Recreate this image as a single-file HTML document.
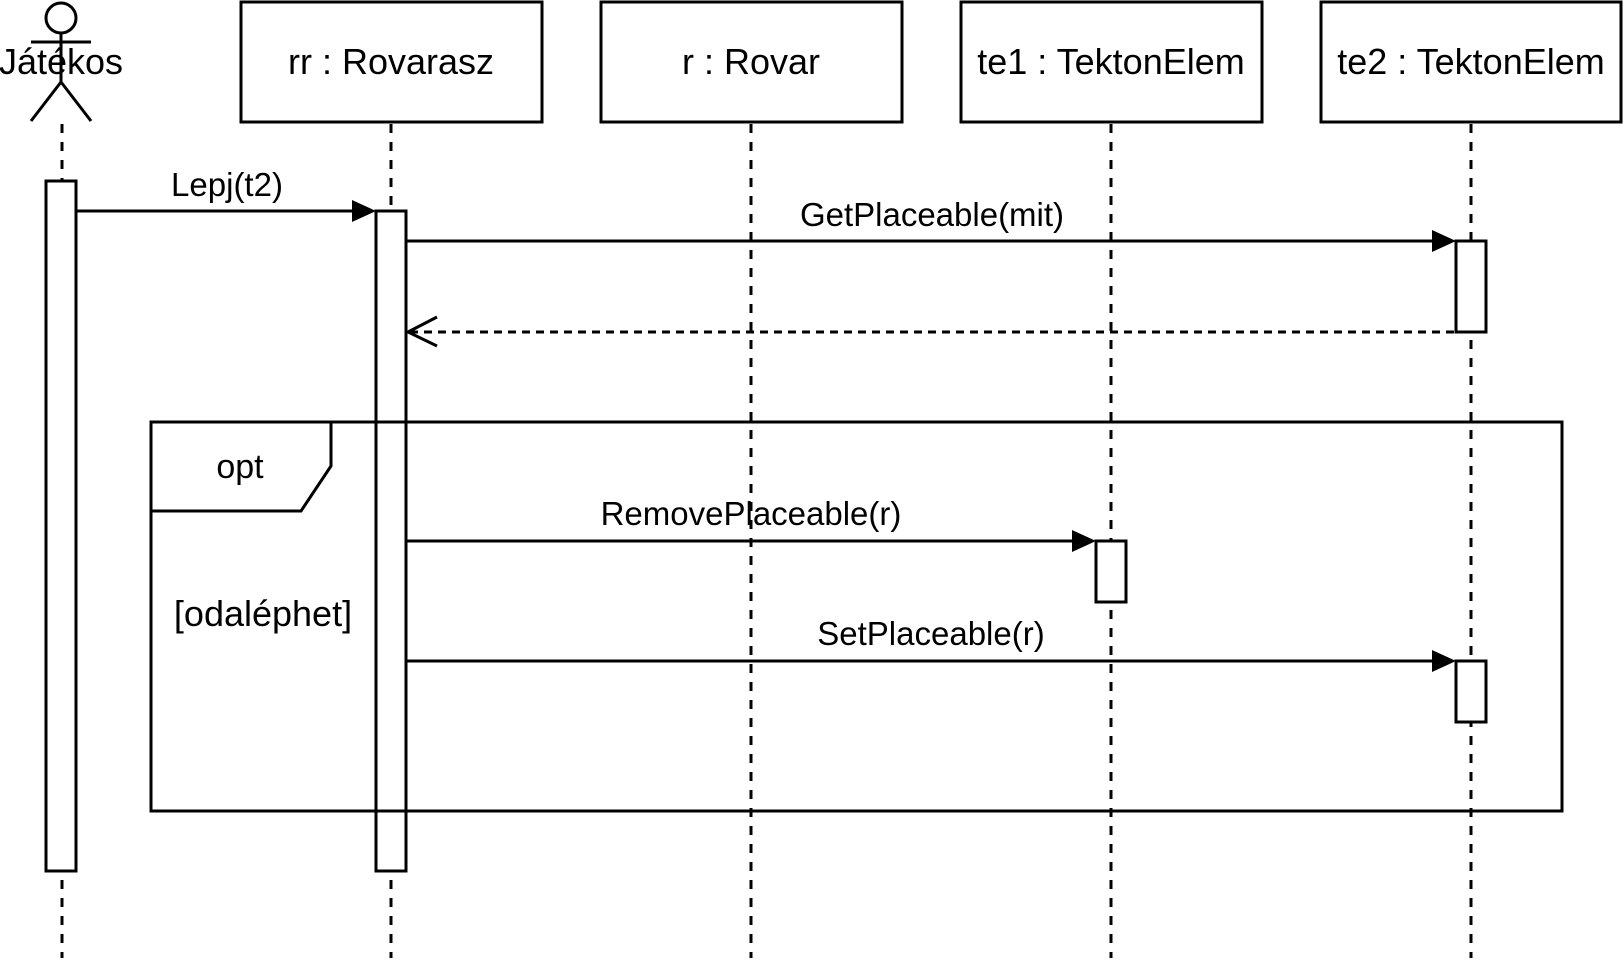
<!DOCTYPE html>
<html><head><meta charset="utf-8"><style>html,body{margin:0;padding:0;background:#fff;}svg{display:block;}</style></head>
<body>
<svg width="1623" height="963" viewBox="0 0 1623 963" xmlns="http://www.w3.org/2000/svg" font-family="'Liberation Sans', Arial, sans-serif" fill="none" stroke="#000" stroke-width="3">
<g stroke-dasharray="9 9">
<line x1="62" y1="124" x2="62" y2="958"/>
<line x1="391" y1="124" x2="391" y2="958"/>
<line x1="751" y1="124" x2="751" y2="958"/>
<line x1="1111" y1="124" x2="1111" y2="958"/>
<line x1="1471" y1="124" x2="1471" y2="958"/>
</g>
<circle cx="61" cy="18" r="15" fill="#fff"/>
<line x1="31" y1="42" x2="91" y2="42"/>
<line x1="61" y1="33" x2="61" y2="82"/>
<line x1="61" y1="82" x2="31" y2="121"/>
<line x1="61" y1="82" x2="91" y2="121"/>
<rect x="241" y="2" width="301" height="120" fill="#fff"/>
<rect x="601" y="2" width="301" height="120" fill="#fff"/>
<rect x="961" y="2" width="301" height="120" fill="#fff"/>
<rect x="1321" y="2" width="300" height="120" fill="#fff"/>
<rect x="151" y="422" width="1411" height="389"/>
<path d="M151 511 L301 511 L331 466 L331 422"/>
<rect x="46" y="181" width="30" height="690" fill="#fff"/>
<rect x="376" y="211" width="30" height="660" fill="#fff"/>
<rect x="1456" y="241" width="30" height="91" fill="#fff"/>
<rect x="1096" y="541" width="30" height="61" fill="#fff"/>
<rect x="1456" y="661" width="30" height="61" fill="#fff"/>
<line x1="151" y1="422" x2="1562" y2="422"/>
<line x1="151" y1="811" x2="1562" y2="811"/>
<line x1="76" y1="211" x2="352" y2="211"/>
<polygon points="376,211 352,200 352,222" fill="#000" stroke="none"/>
<line x1="406" y1="241" x2="1432" y2="241"/>
<polygon points="1456,241 1432,230 1432,252" fill="#000" stroke="none"/>
<line x1="410" y1="332" x2="1456" y2="332" stroke-dasharray="8 6"/>
<polyline points="437,317 408,332 437,346"/>
<line x1="406" y1="541" x2="1072" y2="541"/>
<polygon points="1096,541 1072,530 1072,552" fill="#000" stroke="none"/>
<line x1="406" y1="661" x2="1432" y2="661"/>
<polygon points="1456,661 1432,650 1432,672" fill="#000" stroke="none"/>
<g fill="#000" stroke="none" font-size="36" text-anchor="middle">
<text x="61" y="74">Játékos</text>
<text x="391" y="74">rr : Rovarasz</text>
<text x="751" y="74">r : Rovar</text>
<text x="1111" y="74">te1 : TektonElem</text>
<text x="1471" y="74">te2 : TektonElem</text>
</g>
<g fill="#000" stroke="none" font-size="33" text-anchor="middle">
<text x="227" y="196">Lepj(t2)</text>
<text x="932" y="226">GetPlaceable(mit)</text>
<text x="240" y="478" font-size="34">opt</text>
<text x="263" y="626" font-size="36">[odaléphet]</text>
<text x="751" y="525">RemovePlaceable(r)</text>
<text x="931" y="645">SetPlaceable(r)</text>
</g>
</svg>
</body></html>
